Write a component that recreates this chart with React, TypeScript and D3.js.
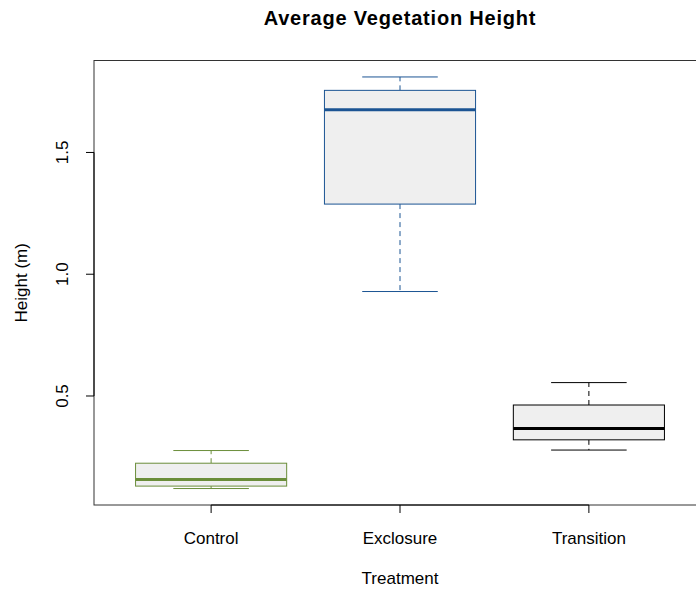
import React from "react";
import * as d3 from "d3";

// Five-number summaries per treatment (metres)
const categories = ["Control", "Exclosure", "Transition"];
const lowerWhisker = [0.12, 0.929, 0.278];
const q1 = [0.13, 1.288, 0.32];
const median = [0.157, 1.675, 0.367];
const q3 = [0.224, 1.755, 0.463];
const upperWhisker = [0.276, 1.81, 0.555];
const strokeColors = ["#6B8E3A", "#1B5493", "#000000"];
const yTicks = [0.5, 1.0, 1.5];

const W = 696;
const H = 590;
const margin = { left: 94, top: 60.5, bottom: 505 };
const plotRight = 706;

export default function App() {
  const n = categories.length;
  // R-style axis extension of 4%
  const xDom: [number, number] = [0.5 - 0.12, n + 0.5 + 0.12];
  const x = d3.scaleLinear().domain(xDom).range([margin.left, plotRight]);

  const yMin = d3.min(lowerWhisker)!;
  const yMax = d3.max(upperWhisker)!;
  const pad = (yMax - yMin) * 0.04;
  const y = d3
    .scaleLinear()
    .domain([yMin - pad, yMax + pad])
    .range([margin.bottom, margin.top]);

  const step = x(2) - x(1);
  const boxW = step * 0.8;
  const capW = boxW / 2;
  const font = "'Liberation Sans', Arial, Helvetica, sans-serif";

  return (
    <svg
      width={W}
      height={H}
      style={{ position: "absolute", left: 0, top: 0, display: "block", background: "#fff" }}
      fontFamily={font}
    >
      <text
        x={(margin.left + plotRight) / 2}
        y={25}
        textAnchor="middle"
        fontWeight="bold"
        fontSize={20}
        letterSpacing={0.8}
      >
        Average Vegetation Height
      </text>

      {categories.map((c, i) => {
        const cx = x(i + 1);
        const col = strokeColors[i];
        return (
          <g key={c}>
            {/* whiskers */}
            <line x1={cx} x2={cx} y1={y(q3[i])} y2={y(upperWhisker[i])} stroke={col} strokeWidth={1} strokeDasharray="5,4" />
            <line x1={cx} x2={cx} y1={y(q1[i])} y2={y(lowerWhisker[i])} stroke={col} strokeWidth={1} strokeDasharray="5,4" />
            <line x1={cx - capW / 2} x2={cx + capW / 2} y1={y(upperWhisker[i])} y2={y(upperWhisker[i])} stroke={col} strokeWidth={1} />
            <line x1={cx - capW / 2} x2={cx + capW / 2} y1={y(lowerWhisker[i])} y2={y(lowerWhisker[i])} stroke={col} strokeWidth={1} />
            {/* box */}
            <rect
              x={cx - boxW / 2}
              y={y(q3[i])}
              width={boxW}
              height={y(q1[i]) - y(q3[i])}
              fill="#EFEFEF"
              stroke={col}
              strokeWidth={1}
            />
            <line x1={cx - boxW / 2} x2={cx + boxW / 2} y1={y(median[i])} y2={y(median[i])} stroke={col} strokeWidth={3} />
          </g>
        );
      })}

      {/* plot frame */}
      <rect
        x={margin.left}
        y={margin.top}
        width={plotRight - margin.left}
        height={margin.bottom - margin.top}
        fill="none"
        stroke="#333"
        strokeWidth={1}
      />

      {/* y axis */}
      <line x1={margin.left} x2={margin.left} y1={y(yTicks[0])} y2={y(yTicks[yTicks.length - 1])} stroke="#000" />
      {yTicks.map((t) => (
        <g key={t}>
          <line x1={margin.left - 8} x2={margin.left} y1={y(t)} y2={y(t)} stroke="#000" />
          <text
            transform={`translate(${margin.left - 26.5},${y(t)}) rotate(-90)`}
            textAnchor="middle"
            fontSize={17}
          >
            {t.toFixed(1)}
          </text>
        </g>
      ))}
      <text transform={`translate(27,${(margin.top + margin.bottom) / 2}) rotate(-90)`} textAnchor="middle" fontSize={17}>
        Height (m)
      </text>

      {/* x axis */}
      <line x1={x(1)} x2={x(n)} y1={margin.bottom} y2={margin.bottom} stroke="#000" />
      {categories.map((c, i) => (
        <g key={c}>
          <line x1={x(i + 1)} x2={x(i + 1)} y1={margin.bottom} y2={margin.bottom + 8} stroke="#000" />
          <text x={x(i + 1)} y={margin.bottom + 38.5} textAnchor="middle" fontSize={17}>
            {c}
          </text>
        </g>
      ))}
      <text x={(margin.left + plotRight) / 2} y={margin.bottom + 79} textAnchor="middle" fontSize={17}>
        Treatment
      </text>
    </svg>
  );
}
